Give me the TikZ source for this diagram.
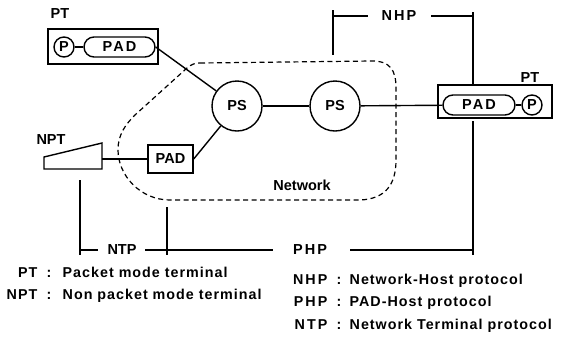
\documentclass[tikz,border=0pt]{standalone}
\usepackage{fontspec}
\setmainfont{Liberation Sans}
\newcommand{\spc}{\addfontfeature{LetterSpace=14}}
\newcommand{\lsp}{\addfontfeature{LetterSpace=7}}
\begin{document}
\begin{tikzpicture}[x=1pt,y=-1pt,line width=1.4pt,
  lbl/.style={font=\bfseries\fontsize{14.5}{16}\selectfont,inner sep=0pt},
  leg/.style={font=\bfseries\fontsize{14.3}{16}\selectfont\lsp,inner sep=0pt,anchor=base west},
  legr/.style={font=\bfseries\fontsize{14.3}{16}\selectfont\lsp,inner sep=0pt,anchor=base east},
  psnode/.style={circle,draw,minimum size=50pt,inner sep=0pt,lbl},
  pcirc/.style={circle,draw,minimum size=20pt,inner sep=0pt,lbl},
  padr/.style={draw,rectangle,rounded corners=10pt,minimum height=20pt,inner sep=0pt,lbl},
  padbox/.style={draw,rectangle,minimum width=45pt,minimum height=28pt,inner sep=0pt,lbl},
  termbox/.style={draw,rectangle,inner sep=0pt},
  brk/.style={line width=1.1pt}]
\useasboundingbox (0,0) rectangle (562,349);

% top-left packet terminal
\node[termbox,minimum width=110pt,minimum height=35pt] (pt1) at (103,46.5) {};
\node[lbl] (pt1lbl) at (60,14) {PT};
\node[pcirc] (p1) at (64,47) {P};
\node[padr,minimum width=71pt] (pad1) at (119.5,47) {\spc PAD};
\draw (p1) -- (pad1);

% right packet terminal
\node[termbox,minimum width=114pt,minimum height=33pt] (pt2) at (495,101.5) {};
\node[lbl] (pt2lbl) at (530,78) {PT};
\node[padr,minimum width=72pt] (pad2) at (479,105) {\spc PAD};
\node[pcirc] (p2) at (532,105) {P};
\draw (pad2) -- (p2);

% packet switches
\node[psnode] (ps1) at (237,106) {PS};
\node[psnode] (ps2) at (335,106) {PS};

% non packet terminal
\draw (44,157) -- (102,143) -- (102,169) -- (44,169) -- cycle;
\coordinate (npt) at (102,159);
\node[lbl] (nptlbl) at (51,140) {NPT};
\node[padbox] (pad3) at (170.5,159) {PAD};

% network boundary
\draw[line width=1.2pt,dash pattern=on 5pt off 3.5pt] (200,63) -- (372,61)
  .. controls (390,61) and (396,70) .. (396,88) -- (396,160)
  .. controls (396,185) and (385,199) .. (360,200) -- (170,200)
  .. controls (140,200) and (118,175) .. (118,150)
  .. controls (118,135) and (125,125) .. (135,115) -- (187,68)
  .. controls (192,64) and (195,63) .. (200,63);
\node[lbl] (netlbl) at (302,185) {Network};

% connections
\draw (pad1.east) -- (ps1);
\draw (npt) -- (pad3);
\draw (pad3.east) -- (ps1);
\draw (ps1) -- (ps2);
\draw (ps2) -- (pad2);

% NHP bracket
\node[lbl] (nhp) at (399,16) {\spc NHP};
\draw[brk] (333,10) -- (333,55);
\draw[brk] (333,16) -- (368,16);
\draw[brk] (431,16) -- (473,16);
\draw[brk] (473,12) -- (473,85);

% bottom brackets
\node[lbl] (ntp) at (122,250) {NTP};
\node[lbl] (php) at (310,250) {\spc PHP};
\draw[brk] (80,180) -- (80,255);
\draw[brk] (167,207) -- (167,255);
\draw[brk] (473,121) -- (473,255);
\draw[brk] (80,250) -- (98,250);
\draw[brk] (145,250) -- (273,250);
\draw[brk] (350,250) -- (473,250);

% legend left
\node[legr] (lptk) at (38,277) {PT};
\node[leg] (lptc) at (46,277) {:};
\node[leg] (lptd) at (62,277) {Packet mode terminal};
\node[legr] (lnptk) at (38,299) {NPT};
\node[leg] (lnptc) at (46,299) {:};
\node[leg] (lnptd) at (62,299) {Non packet mode terminal};
% legend right
\node[legr] (lnhpk) at (328,284) {\spc NHP};
\node[leg] (lnhpc) at (336,284) {:};
\node[leg] (lnhpd) at (349,284) {Network-Host protocol};
\node[legr] (lphpk) at (328,306) {\spc PHP};
\node[leg] (lphpc) at (336,306) {:};
\node[leg] (lphpd) at (349,306) {PAD-Host protocol};
\node[legr] (lntpk) at (328,329) {\spc NTP};
\node[leg] (lntpc) at (336,329) {:};
\node[leg] (lntpd) at (349,329) {Network Terminal protocol};
\end{tikzpicture}
\end{document}
